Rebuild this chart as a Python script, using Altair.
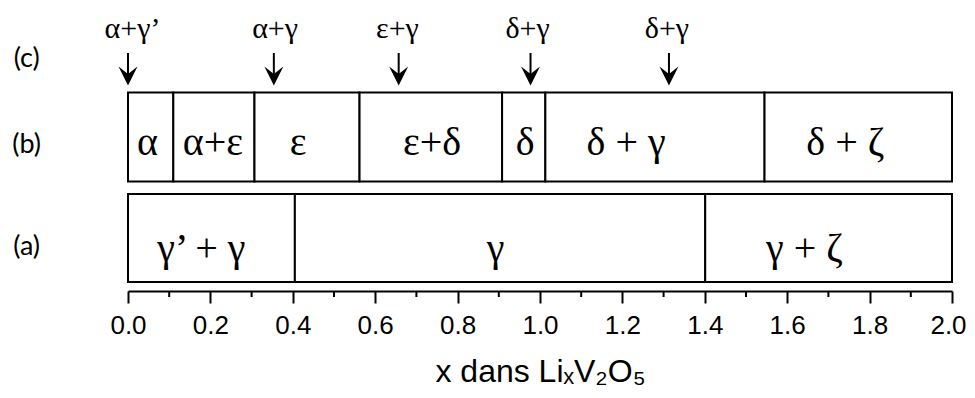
import altair as alt
import pandas as pd

# ---- data ----
# row (b): phase boundaries and labels
b_bounds = [0.0, 0.11, 0.307, 0.562, 0.908, 1.013, 1.545, 2.0]
b_labels = ["α", "α+ε", "ε", "ε+δ", "δ", "δ + γ", "δ + ζ"]
b_label_x = [0.047, 0.206, 0.413, 0.738, 0.964, 1.209, 1.741]

# row (a)
a_bounds = [0.0, 0.405, 1.401, 2.0]
a_labels = ["γ’ + γ", "γ", "γ + ζ"]
a_label_x = [0.178, 0.892, 1.642]

# row (c): arrows
c_arrow_x = [0.0, 0.354, 0.657, 0.977, 1.313]
c_labels = ["α+γ’", "α+γ", "ε+γ", "δ+γ", "δ+γ"]
c_label_x = [0.011, 0.357, 0.654, 0.970, 1.308]

row_names = ["(c)", "(b)", "(a)"]

# vertical levels (arbitrary schematic units)
a_lo, a_hi = 9, 97
b_lo, b_hi = 109.5, 198.5
a_text, b_text, c_text = 30.4, 136, 253
arrow_top, arrow_head = 238, 215
row_label_y = [224, 138, 36.5]
row_label_x = -0.246

major_ticks = [0.0, 0.2, 0.4, 0.6, 0.8, 1.0, 1.2, 1.4, 1.6, 1.8, 2.0]
minor_ticks = [0.1, 0.3, 0.5, 0.7, 0.9, 1.1, 1.3, 1.5, 1.7, 1.9]

# ---- tables ----
boxes = pd.DataFrame(
    [{"x": b_bounds[i], "x2": b_bounds[i + 1], "y": b_lo, "y2": b_hi} for i in range(len(b_labels))]
    + [{"x": a_bounds[i], "x2": a_bounds[i + 1], "y": a_lo, "y2": a_hi} for i in range(len(a_labels))]
)
box_text = pd.DataFrame(
    [{"x": x, "y": b_text, "t": t} for x, t in zip(b_label_x, b_labels)]
    + [{"x": x, "y": a_text, "t": t} for x, t in zip(a_label_x, a_labels)]
)
arrows = pd.DataFrame({"x": c_arrow_x, "y": arrow_top, "y2": arrow_head + 1})
heads = pd.DataFrame({"x": c_arrow_x, "y": arrow_head})
arrow_text = pd.DataFrame({"x": c_label_x, "y": c_text, "t": c_labels})
rows = pd.DataFrame({"x": row_label_x, "y": row_label_y, "t": row_names})
minors = pd.DataFrame({"x": minor_ticks, "y": 0, "y2": -6})

xscale = alt.Scale(domain=[0, 2], nice=False, zero=False)
yscale = alt.Scale(domain=[0, 283], nice=False, zero=False)

xaxis = alt.Axis(
    values=major_ticks, format=".1f", grid=False, labelFlush=False,
    labelOffset={"condition": {"test": "datum.value >= 2", "value": -4}, "value": 0},
    domainColor="black", domainWidth=2, tickColor="black", tickWidth=2, tickSize=12,
    labelFont="Liberation Sans", labelFontSize=26, labelColor="black", labelPadding=9,
    title="x dans LiₓV₂O₅", titleFont="Liberation Sans", titleFontSize=32,
    titleFontWeight="normal", titleColor="black", titlePadding=18,
)

rect = alt.Chart(boxes).mark_rect(fill="white", stroke="black", strokeWidth=2).encode(
    x=alt.X("x:Q", scale=xscale, axis=xaxis),
    x2="x2:Q",
    y=alt.Y("y:Q", scale=yscale, axis=None),
    y2="y2:Q",
)

btext = alt.Chart(box_text).mark_text(
    font="Liberation Serif", fontSize=40, baseline="alphabetic", align="center", color="black"
).encode(x="x:Q", y="y:Q", text="t:N")

shafts = alt.Chart(arrows).mark_rule(color="black", strokeWidth=2).encode(
    x="x:Q", y="y:Q", y2="y2:Q"
)
arrowheads = alt.Chart(heads).mark_point(
    shape="M0,1L-1,-1L0,-0.2L1,-1Z", size=361, filled=True, color="black", opacity=1, strokeWidth=0
).encode(x="x:Q", y="y:Q")

atext = alt.Chart(arrow_text).mark_text(
    font="Liberation Serif", fontSize=30, baseline="alphabetic", align="center", color="black"
).encode(x="x:Q", y="y:Q", text="t:N")

rtext = alt.Chart(rows).mark_text(
    font="Lato", fontSize=27, baseline="alphabetic", align="center", color="black"
).encode(x="x:Q", y="y:Q", text="t:N")

minor = alt.Chart(minors).mark_rule(color="black", strokeWidth=2).encode(
    x="x:Q", y="y:Q", y2="y2:Q"
)

chart = alt.layer(rect, btext, shafts, arrowheads, atext, rtext, minor).properties(
    width=824, height=283,
    padding={"left": 120, "top": 0, "right": 15, "bottom": 99},
    autosize=alt.AutoSizeParams(type="none"),
).configure_view(stroke=None)

chart.save("out.html", embed_options={"renderer": "svg", "actions": False})
